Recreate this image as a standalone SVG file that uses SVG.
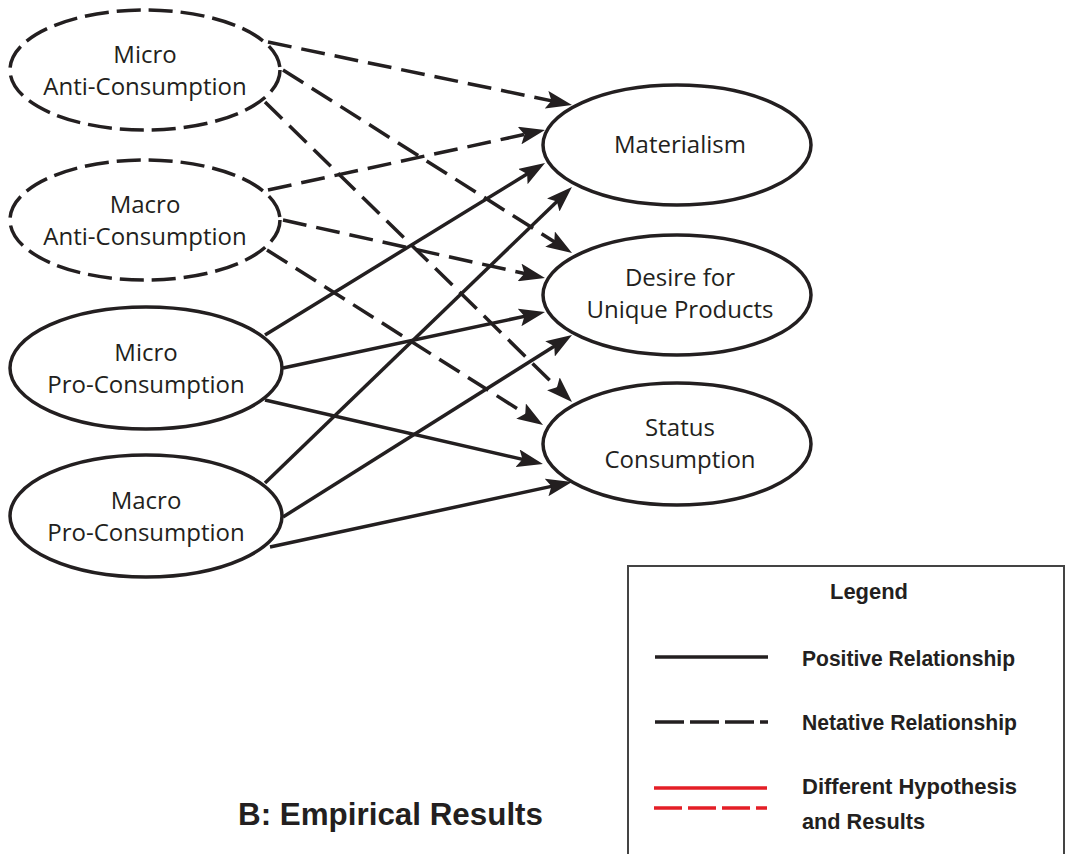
<svg xmlns="http://www.w3.org/2000/svg" width="1065" height="854" viewBox="0 0 1065 854">
  <style>
    .node { fill: #ffffff; stroke: #231f20; stroke-width: 3.5; }
    .dashed { stroke-dasharray: 24 8; }
    .label { font-family: "Open Sans", "Noto Sans", sans-serif; font-size: 24px; fill: #231f20; text-anchor: middle; }
    .edge { fill: none; stroke: #231f20; stroke-width: 3.5; marker-end: url(#arrow); }
    .neg { stroke-dasharray: 24 10; }
    .legend-text { font-family: "Liberation Sans", Arial, sans-serif; font-weight: bold; font-size: 22px; fill: #231f20; }
  </style>
  <defs>
    <marker id="arrow" viewBox="0 0 26 18" markerUnits="userSpaceOnUse" markerWidth="26" markerHeight="18" refX="12" refY="9" orient="auto">
      <path d="M0,0 L26,9 L0,18 L5,9 z" fill="#231f20"/>
    </marker>
  </defs>
  <rect width="1065" height="854" fill="#ffffff"/>

  <!-- connectors -->
  <g id="connectors">
    <!-- Micro Anti-Consumption (negative) -->
    <path class="edge neg" d="M268,42 L558.3,102.2"/>
    <path class="edge neg" d="M283,70 L560.2,245.5"/>
    <path class="edge neg" d="M265,102 L562,392.2"/>
    <!-- Macro Anti-Consumption (negative) -->
    <path class="edge neg" d="M268,190 L531.3,133"/>
    <path class="edge neg" d="M283,220 L531.3,275"/>
    <path class="edge neg" d="M267,250 L531.2,417.5"/>
    <!-- Micro Pro-Consumption (positive) -->
    <path class="edge" d="M265,335 L533.1,170.3"/>
    <path class="edge" d="M283,368 L531.3,314.9"/>
    <path class="edge" d="M265,400 L529.3,460.9"/>
    <!-- Macro Pro-Consumption (positive) -->
    <path class="edge" d="M265,483 L561.9,196.7"/>
    <path class="edge" d="M283,517 L560.2,342.5"/>
    <path class="edge" d="M270,547 L558.3,484.9"/>
  </g>

  <!-- source constructs -->
  <g id="micro-anti">
    <ellipse class="node dashed" cx="145" cy="70" rx="135" ry="60"/>
    <text class="label" x="145" y="63">Micro</text>
    <text class="label" x="145" y="95">Anti-Consumption</text>
  </g>
  <g id="macro-anti">
    <ellipse class="node dashed" cx="145" cy="220" rx="135" ry="60"/>
    <text class="label" x="145" y="213">Macro</text>
    <text class="label" x="145" y="245">Anti-Consumption</text>
  </g>
  <g id="micro-pro">
    <ellipse class="node" cx="146" cy="368" rx="136" ry="61"/>
    <text class="label" x="146" y="361">Micro</text>
    <text class="label" x="146" y="393">Pro-Consumption</text>
  </g>
  <g id="macro-pro">
    <ellipse class="node" cx="146" cy="516" rx="136" ry="61"/>
    <text class="label" x="146" y="509">Macro</text>
    <text class="label" x="146" y="541">Pro-Consumption</text>
  </g>

  <!-- outcome constructs -->
  <g id="materialism">
    <ellipse class="node" cx="677" cy="145" rx="134" ry="60"/>
    <text class="label" x="680" y="153">Materialism</text>
  </g>
  <g id="desire-unique">
    <ellipse class="node" cx="677" cy="295" rx="134" ry="60"/>
    <text class="label" x="680" y="286">Desire for</text>
    <text class="label" x="680" y="318">Unique Products</text>
  </g>
  <g id="status-consumption">
    <ellipse class="node" cx="677" cy="444" rx="134" ry="61"/>
    <text class="label" x="680" y="436">Status</text>
    <text class="label" x="680" y="468">Consumption</text>
  </g>

  <!-- legend -->
  <g id="legend">
    <rect x="628" y="566" width="436" height="300" fill="#ffffff" stroke="#444444" stroke-width="2"/>
    <text class="legend-text" x="830" y="599" textLength="78" lengthAdjust="spacingAndGlyphs">Legend</text>
    <line x1="655" y1="657" x2="768" y2="657" stroke="#231f20" stroke-width="3.5"/>
    <text class="legend-text" x="802" y="666" textLength="213" lengthAdjust="spacingAndGlyphs">Positive Relationship</text>
    <line x1="655" y1="722" x2="768" y2="722" stroke="#231f20" stroke-width="3.5" stroke-dasharray="29 6"/>
    <text class="legend-text" x="802" y="730" textLength="215" lengthAdjust="spacingAndGlyphs">Netative Relationship</text>
    <line x1="654" y1="788" x2="767" y2="788" stroke="#e41e26" stroke-width="3.5"/>
    <line x1="654" y1="808" x2="767" y2="808" stroke="#e41e26" stroke-width="3.5" stroke-dasharray="28 6"/>
    <text class="legend-text" x="802" y="794" textLength="215" lengthAdjust="spacingAndGlyphs">Different Hypothesis</text>
    <text class="legend-text" x="802" y="829" textLength="123" lengthAdjust="spacingAndGlyphs">and Results</text>
  </g>

  <!-- caption -->
  <text x="238" y="825" font-family="'Liberation Sans', Arial, sans-serif" font-weight="bold" font-size="31" fill="#231f20" textLength="305" lengthAdjust="spacingAndGlyphs">B: Empirical Results</text>
</svg>
